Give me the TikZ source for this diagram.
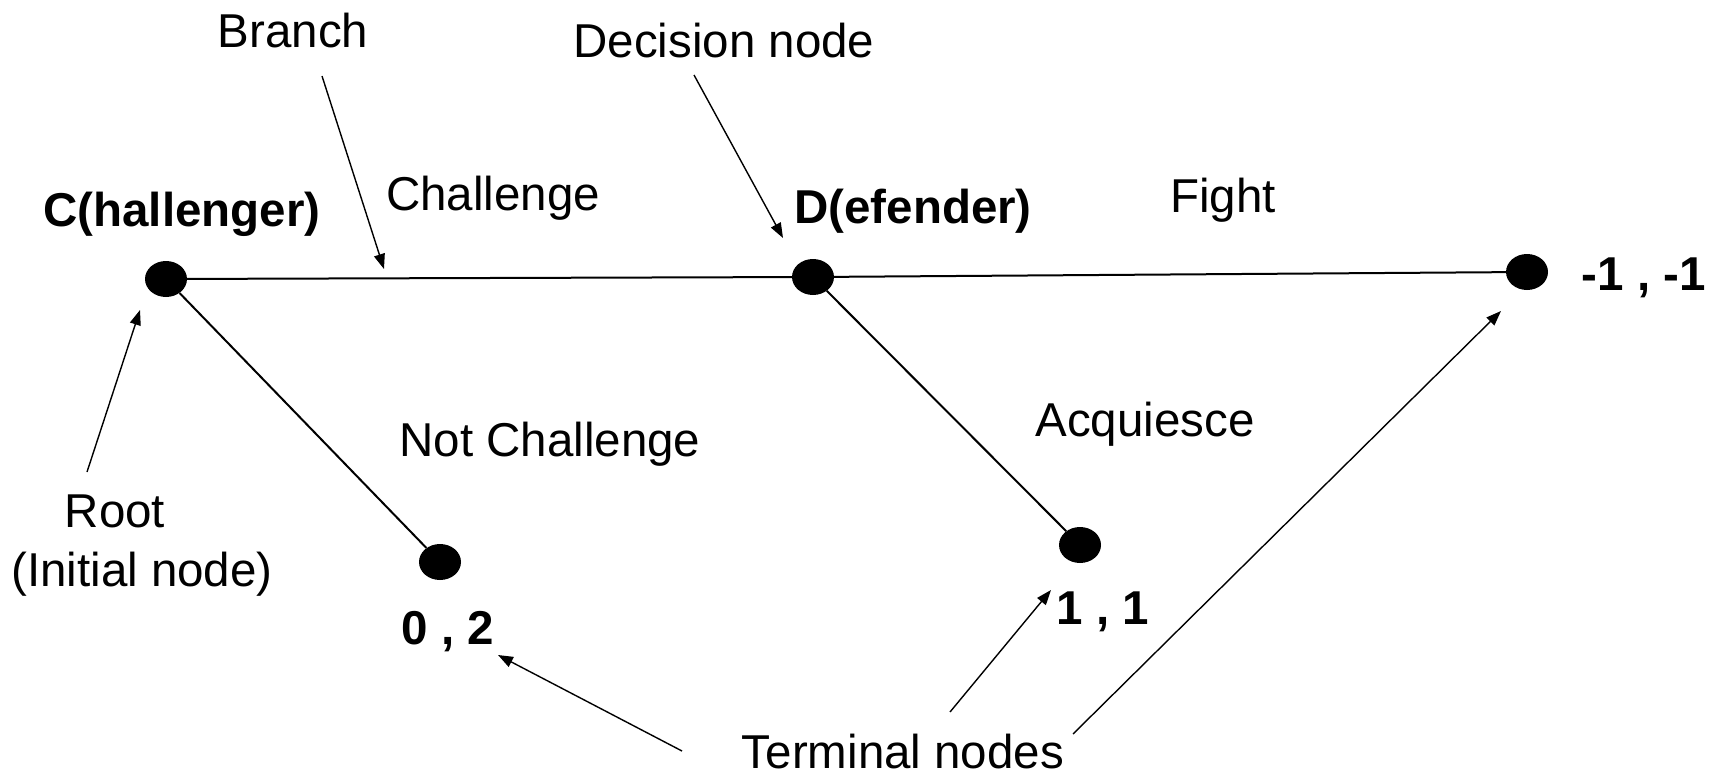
\documentclass[tikz,border=0pt]{standalone}
\usepackage{fontspec}
\setmainfont{Liberation Sans}
\usetikzlibrary{arrows.meta}
\tikzset{
  lbl/.style={inner sep=0pt, text height=34pt, text depth=0pt, anchor=center,
              font=\fontsize{47.5}{57}\selectfont},
  blbl/.style={lbl, font=\fontsize{47.5}{57}\selectfont\bfseries},
  dot/.style={ellipse, fill=black, minimum width=42pt, minimum height=36pt, inner sep=0pt},
  branchline/.style={line width=2pt, black},
  pointer/.style={line width=1.4pt, -{Triangle[length=15pt,width=11pt]}}
}
\usetikzlibrary{shapes.geometric}
\begin{document}
\begin{tikzpicture}[x=1pt, y=-1pt]
\useasboundingbox (0,0) rectangle (1712,773);

% game tree nodes
\node[dot] (c)  at (166,279) {};
\node[dot] (d)  at (813,277) {};
\node[dot] (tf) at (1527,272) {};
\node[dot] (t0) at (440,562) {};
\node[dot] (ta) at (1080,545) {};

% branches
\draw[branchline] (c) -- (d);
\draw[branchline] (d) -- (tf);
\draw[branchline] (c) -- (t0);
\draw[branchline] (d) -- (ta);

% player names and actions
\node[blbl] (cname) at (182,209) {C(hallenger)};
\node[blbl] (dname) at (913,206) {D(efender)};
\node[lbl] (chal) at (493,193) {Challenge};
\node[lbl] (fight) at (1223,195) {Fight};
\node[lbl] (notchal) at (550,439) {Not Challenge};
\node[lbl] (acq) at (1145,419) {Acquiesce};

% payoffs
\node[blbl] (pf) at (1644,273) {-1 , -1};
\node[blbl] (p0) at (448,627) {0 , 2};
\node[blbl] (pa) at (1103,607) {1 , 1};

% annotations
\node[lbl] (branch) at (293,31) {Branch};
\node[lbl] (decision) at (724,41) {Decision node};
\node[lbl] (root) at (115,510) {Root};
\node[lbl] (initial) at (142,569) {(Initial node)};
\node[lbl] (terminal) at (903,751) {Terminal nodes};

% pointer ends
\coordinate (branchS) at (322,76);
\coordinate (branchE) at (384,269);
\coordinate (decS) at (694,75);
\coordinate (decE) at (783,238);
\coordinate (rootS) at (87,472);
\coordinate (rootE) at (140,310);
\coordinate (t0S) at (682,751);
\coordinate (t0E) at (498,655);
\coordinate (taS) at (950,712);
\coordinate (taE) at (1051,590);
\coordinate (tfS) at (1073,734);
\coordinate (tfE) at (1501,311);

\draw[pointer] (branchS) -- (branchE);
\draw[pointer] (decS) -- (decE);
\draw[pointer] (rootS) -- (rootE);
\draw[pointer] (t0S) -- (t0E);
\draw[pointer] (taS) -- (taE);
\draw[pointer] (tfS) -- (tfE);
\end{tikzpicture}
\end{document}
